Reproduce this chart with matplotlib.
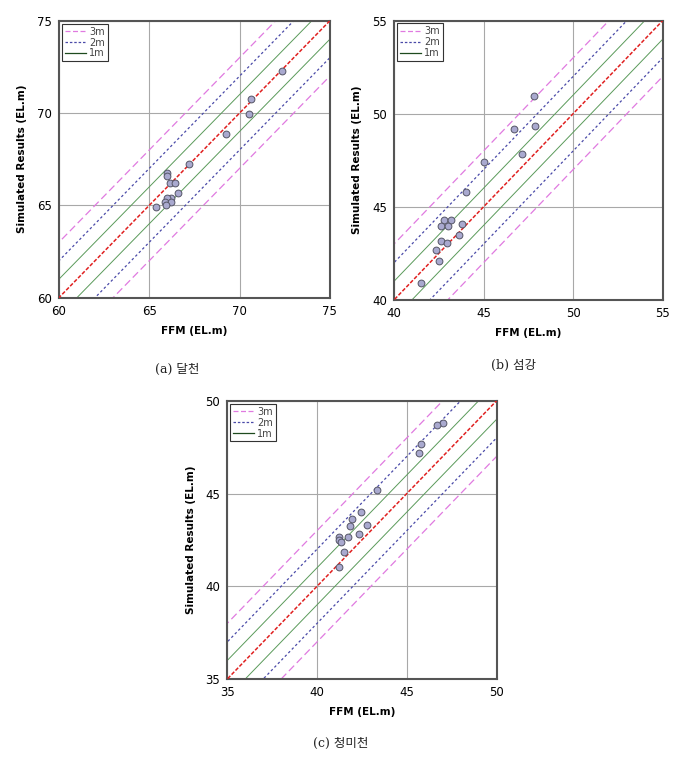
import numpy as np
import matplotlib
matplotlib.use('Agg')
import matplotlib.pyplot as plt

plt.rcParams['font.family'] = ['DejaVu Sans', 'Noto Sans CJK KR']

# (a) 달천
ffm_a = [72.32, 70.61, 70.52, 69.24, 67.21, 65.96, 65.96, 66.14, 66.40, 66.57,
         66.18, 65.96, 65.85, 66.18, 65.90, 65.37]
sim_a = [72.27, 70.76, 69.96, 68.86, 67.22, 66.77, 66.61, 66.21, 66.23, 65.69,
         65.38, 65.38, 65.20, 65.20, 65.04, 64.89]

# (b) 섬강
ffm_b = [47.82, 46.68, 47.88, 47.17, 45.04, 44.00, 42.79, 43.17, 42.64, 43.00,
         43.78, 43.65, 42.61, 42.96, 42.35, 42.51, 41.48]
sim_b = [50.95, 49.18, 49.33, 47.84, 47.41, 45.82, 44.28, 44.31, 43.95, 43.97,
         44.08, 43.51, 43.17, 43.04, 42.67, 42.07, 40.89]

# (c) 청미천
ffm_c = [47.01, 46.66, 45.77, 45.68, 43.33, 42.44, 41.92, 41.81, 42.76, 42.33,
         41.70, 41.20, 41.20, 41.32, 41.48, 41.20]
sim_c = [48.80, 48.70, 47.68, 47.18, 45.17, 44.02, 43.60, 43.25, 43.32, 42.83,
         42.65, 42.63, 42.49, 42.37, 41.86, 41.06]

ranges = [(60, 75), (40, 55), (35, 50)]
ticks = [[60, 65, 70, 75], [40, 45, 50, 55], [35, 40, 45, 50]]
captions = ['(a) 달천', '(b) 섬강', '(c) 청미천']
offsets = [3, 2, 1]
band_labels = ['3m', '2m', '1m']

fig = plt.figure(figsize=(6.74, 7.67), dpi=100)
positions = [
    [0.0875, 0.612, 0.402, 0.361],
    [0.5846, 0.609, 0.3987, 0.3642],
    [0.3372, 0.1147, 0.3996, 0.3628],
]
caption_xy = [(0.263, 0.518), (0.762, 0.523), (0.506, 0.031)]
data = [(ffm_a, sim_a), (ffm_b, sim_b), (ffm_c, sim_c)]

band_styles = {
    3: dict(color='#e07ae0', linestyle=(0, (6, 3)), linewidth=0.9),
    2: dict(color='#4a4aa8', linestyle=(0, (2, 2)), linewidth=0.9),
    1: dict(color='#5a9a5a', linestyle='-', linewidth=0.7),
}
legend_styles = {
    3: dict(color='#e07ae0', linestyle=(0, (4, 2))),
    2: dict(color='#4a4aa8', linestyle=(0, (2, 1.5))),
    1: dict(color='#1e4a1e', linestyle='-'),
}

for i, (pos, (lo, hi)) in enumerate(zip(positions, ranges)):
    ax = fig.add_axes(pos)
    xs = np.array([lo - 5, hi + 5])
    handles = []
    for off, lab in zip(offsets, band_labels):
        st = band_styles[off]
        ax.plot(xs, xs + off, zorder=2, **st)
        ax.plot(xs, xs - off, zorder=2, **st)
        h, = ax.plot([], [], linewidth=0.9, label=lab, **legend_styles[off])
        handles.append(h)
    ax.plot(xs, xs, color='#e02020', linestyle=(0, (2.5, 1.2)), linewidth=1.1, zorder=3)
    x, y = data[i]
    ax.scatter(x, y, s=24, facecolor='#a9a9cf', edgecolor='#555566',
               linewidth=0.7, zorder=4)
    ax.set_xlim(lo, hi)
    ax.set_ylim(lo, hi)
    ax.set_xticks(ticks[i])
    ax.set_yticks(ticks[i])
    ax.grid(True, color='#a8a8a8', linewidth=0.8)
    ax.set_axisbelow(True)
    ax.tick_params(length=0, labelsize=8.5, pad=5)
    for sp in ax.spines.values():
        sp.set_color('#555555')
        sp.set_linewidth(1.5)
    ax.set_xlabel('FFM (EL.m)', fontsize=7.5, fontweight='bold', labelpad=6)
    ax.set_ylabel('Simulated Results (EL.m)', fontsize=7.5, fontweight='bold', labelpad=7)
    leg = ax.legend(handles=handles, loc='upper left', fontsize=7,
                    handlelength=2.2, handletextpad=0.3, borderpad=0.3,
                    labelspacing=0.1, fancybox=False, framealpha=1,
                    borderaxespad=0.3)
    leg.get_frame().set_edgecolor('#333333')
    leg.get_frame().set_linewidth(0.8)
    for t in leg.get_texts():
        t.set_color('#444444')
    fig.text(caption_xy[i][0], caption_xy[i][1], captions[i], ha='center', va='center',
             fontsize=9, family=['DejaVu Serif', 'Noto Sans CJK KR'], color='#222222')

fig.savefig('out.png', dpi=100)
